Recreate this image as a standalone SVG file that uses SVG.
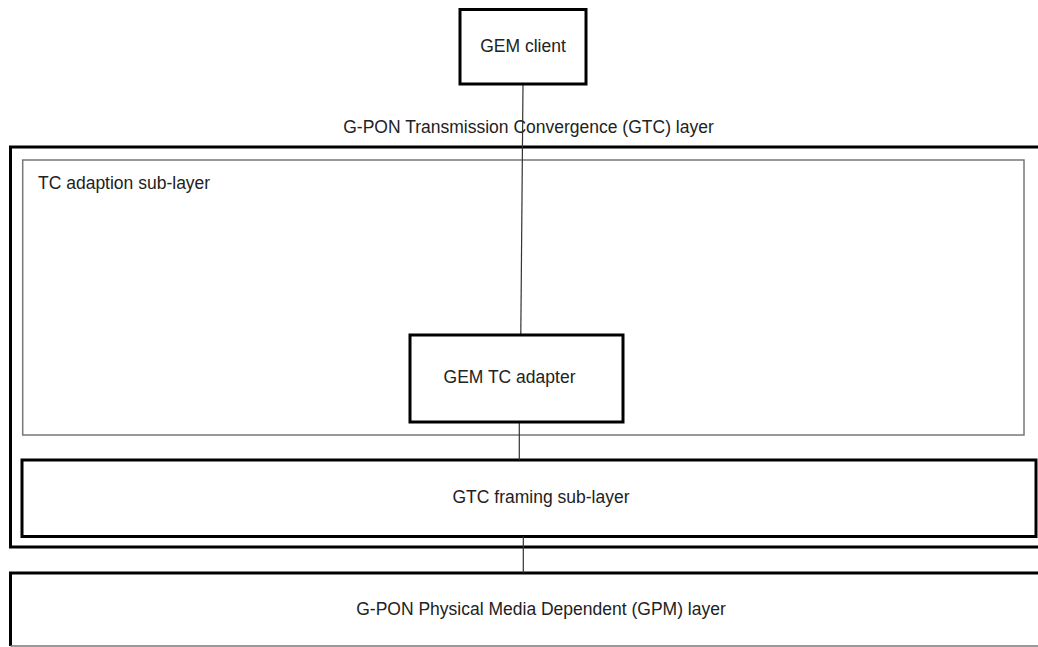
<svg xmlns="http://www.w3.org/2000/svg" width="1038" height="647" viewBox="0 0 1038 647">
  <style>
    .bold { fill: #ffffff; stroke: #000000; stroke-width: 3; }
    .thin { fill: none; stroke: #777777; stroke-width: 1.5; }
    .label { font-family: "Liberation Sans", Arial, sans-serif; font-size: 17.5px; fill: #222222; }
    .mid { text-anchor: middle; }
    .link { stroke: #333333; stroke-width: 1.2; fill: none; }
  </style>
  <rect width="1038" height="647" fill="#ffffff"/>

  <!-- outer GTC layer -->
  <g id="gtc-layer">
    <rect class="bold" x="10.5" y="147" width="1040" height="400"/>
    <text class="label mid" x="528.5" y="133">G-PON Transmission Convergence (GTC) layer</text>
  </g>

  <!-- adaption sub-layer -->
  <g id="tc-adaption">
    <rect class="thin" x="22.7" y="160" width="1001.3" height="275"/>
    <text class="label" x="38" y="189">TC adaption sub-layer</text>
  </g>

  <!-- framing sub-layer -->
  <g id="gtc-framing">
    <rect class="bold" x="22" y="460" width="1014" height="76.5"/>
    <text class="label mid" x="541" y="503">GTC framing sub-layer</text>
  </g>

  <!-- physical media dependent layer -->
  <g id="gpm-layer">
    <path d="M1040 573 H10.5 V646" fill="none" stroke="#000000" stroke-width="3"/>
    <line x1="10.5" y1="646" x2="1040" y2="646" stroke="#777777" stroke-width="1.5"/>
    <text class="label mid" x="541" y="615">G-PON Physical Media Dependent (GPM) layer</text>
  </g>

  <!-- connectors -->
  <g id="connectors">
    <line class="link" x1="523" y1="84" x2="520.8" y2="335"/>
    <line class="link" x1="519.3" y1="422" x2="519.3" y2="460"/>
    <line class="link" x1="523.3" y1="536.5" x2="523.3" y2="573"/>
  </g>

  <g id="gem-client">
    <rect class="bold" x="460" y="9.5" width="126" height="74.5"/>
    <text class="label mid" x="523" y="52">GEM client</text>
  </g>

  <g id="gem-tc-adapter">
    <rect class="bold" x="410" y="335" width="213" height="87"/>
    <text class="label mid" x="509.5" y="383">GEM TC adapter</text>
  </g>
</svg>
